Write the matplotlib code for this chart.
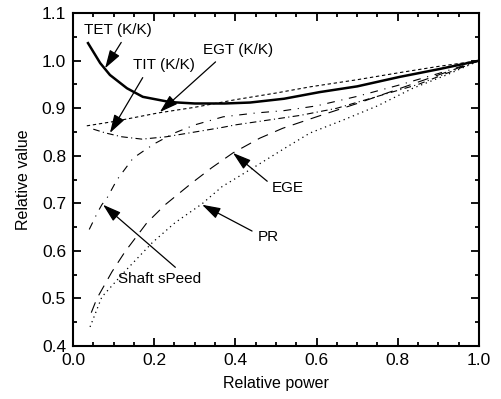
import matplotlib.pyplot as plt
from matplotlib.ticker import MultipleLocator

plt.rcParams['font.family'] = ['Liberation Sans', 'DejaVu Sans']

# curves
tet_x = [0.037, 0.067, 0.091, 0.133, 0.172, 0.239, 0.30, 0.374, 0.436, 0.52, 0.608, 0.70, 0.805, 0.90, 1.0]
tet_y = [1.037, 0.995, 0.970, 0.942, 0.924, 0.913, 0.910, 0.910, 0.912, 0.920, 0.934, 0.946, 0.966, 0.982, 1.0]

egt_x = [0.034, 0.10, 0.209, 0.30, 0.40, 0.50, 0.584, 0.70, 0.805, 0.90, 1.0]
egt_y = [0.863, 0.872, 0.890, 0.902, 0.918, 0.932, 0.945, 0.960, 0.975, 0.988, 1.0]

tit_x = [0.05, 0.08, 0.12, 0.17, 0.23, 0.30, 0.37, 0.40, 0.48, 0.56, 0.65, 0.75, 0.85, 1.0]
tit_y = [0.856, 0.848, 0.840, 0.835, 0.840, 0.850, 0.860, 0.865, 0.875, 0.885, 0.900, 0.925, 0.950, 1.0]

shaft_x = [0.04, 0.06, 0.071, 0.085, 0.108, 0.148, 0.177, 0.202, 0.25, 0.30, 0.37, 0.45, 0.52, 0.60, 0.70, 0.80, 0.90, 1.0]
shaft_y = [0.645, 0.680, 0.697, 0.713, 0.749, 0.795, 0.812, 0.826, 0.848, 0.865, 0.882, 0.890, 0.895, 0.905, 0.925, 0.948, 0.973, 1.0]

ege_x = [0.045, 0.059, 0.096, 0.128, 0.182, 0.227, 0.293, 0.342, 0.394, 0.46, 0.517, 0.60, 0.70, 0.80, 0.90, 1.0]
ege_y = [0.470, 0.500, 0.556, 0.598, 0.659, 0.697, 0.743, 0.775, 0.806, 0.837, 0.858, 0.882, 0.910, 0.940, 0.970, 1.0]

pr_x = [0.042, 0.071, 0.128, 0.195, 0.251, 0.318, 0.367, 0.45, 0.52, 0.584, 0.665, 0.75, 0.837, 0.92, 1.0]
pr_y = [0.440, 0.503, 0.557, 0.617, 0.659, 0.699, 0.735, 0.778, 0.815, 0.848, 0.875, 0.905, 0.942, 0.970, 1.0]

# label text, arrow tip, text position, where on the text the arrow starts
labels = [
    ("TET (K/K)", (0.079, 0.984), (0.110, 1.064), (0.6, 0.0)),
    ("TIT (K/K)", (0.091, 0.848), (0.225, 0.990), (0.2, 0.0)),
    ("EGT (K/K)", (0.214, 0.892), (0.407, 1.022), (0.25, 0.0)),
    ("EGE", (0.394, 0.806), (0.53, 0.732), (0.0, 0.7)),
    ("PR", (0.318, 0.697), (0.48, 0.630), (0.0, 0.7)),
    ("Shaft sPeed", (0.074, 0.697), (0.214, 0.541), (0.75, 1.0)),
]

fig = plt.figure(figsize=(5.01, 3.99), dpi=100)
ax = fig.add_axes([0.1457, 0.133, 0.8103, 0.834])

ax.plot(tet_x, tet_y, color='black', lw=1.8)
ax.plot(egt_x, egt_y, color='black', lw=0.8, dashes=(3, 2.5))
ax.plot(tit_x, tit_y, color='black', lw=0.8, dashes=(6, 3, 1, 3))
ax.plot(shaft_x, shaft_y, color='black', lw=0.8, dashes=(7, 6, 1, 6))
ax.plot(ege_x, ege_y, color='black', lw=0.8, dashes=(10, 7))
ax.plot(pr_x, pr_y, color='black', lw=0.9, dashes=(1, 3))

for text, tip, pos, rel in labels:
    ax.annotate(text, xy=tip, xytext=pos, ha='center', va='center', fontsize=11,
                arrowprops=dict(arrowstyle='-|>,head_length=0.8,head_width=0.25',
                                color='black', lw=0.9, mutation_scale=14,
                                relpos=rel, shrinkA=2, shrinkB=0))

ax.set_xlim(0.0, 1.0)
ax.set_ylim(0.4, 1.1)
ax.xaxis.set_major_locator(MultipleLocator(0.2))
ax.xaxis.set_minor_locator(MultipleLocator(0.05))
ax.yaxis.set_major_locator(MultipleLocator(0.1))
ax.yaxis.set_minor_locator(MultipleLocator(0.05))
ax.xaxis.set_major_formatter(plt.FormatStrFormatter('%.1f'))
ax.yaxis.set_major_formatter(plt.FormatStrFormatter('%.1f'))
ax.tick_params(which='both', direction='in', top=True, right=True, labelsize=12.5, width=1.3)
ax.tick_params(which='major', length=6, pad=5)
ax.tick_params(which='minor', length=3)
for s in ax.spines.values():
    s.set_linewidth(1.5)

ax.set_xlabel("Relative power", fontsize=11.5, labelpad=6)
ax.set_ylabel("Relative value", fontsize=11.5, labelpad=8)

fig.savefig("out.png", dpi=100)
